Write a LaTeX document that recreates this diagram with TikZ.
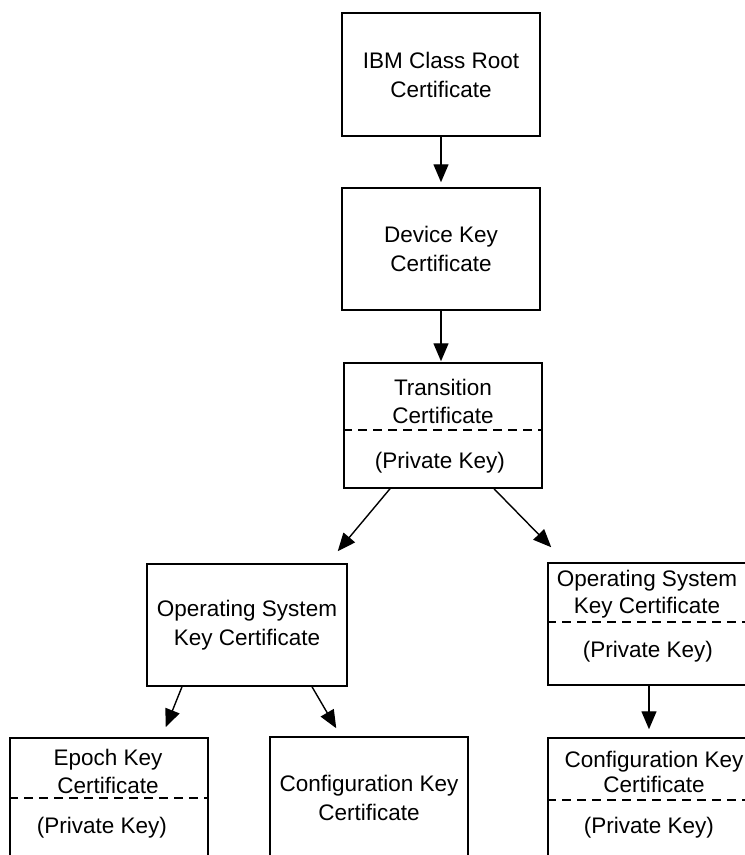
\documentclass[tikz,border=0pt]{standalone}
\usepackage{fontspec}
\setmainfont{Liberation Sans}
\usetikzlibrary{arrows.meta}

\begin{document}
\begin{tikzpicture}[x=1pt,y=-1pt,
  certbox/.style={draw=black, line width=1.5pt, rectangle, inner sep=0pt,
    align=center, font=\fontsize{22.5}{29}\selectfont},
  lbl/.style={inner sep=0pt, anchor=base, font=\fontsize{22.5}{29}\selectfont},
  sep/.style={line width=1.2pt, dash pattern=on 9pt off 6pt},
  arr/.style={line width=1.4pt, -{Triangle[length=18pt,width=15pt]}}]

\useasboundingbox (0,0) rectangle (745,855);

% certificate boxes
\node[certbox, minimum width=198pt, minimum height=123pt] (root) at (441,74.5)
  {IBM Class Root\\Certificate};
\node[certbox, minimum width=198pt, minimum height=122pt] (device) at (441,249)
  {Device Key\\Certificate};
\node[certbox, minimum width=198pt, minimum height=125pt] (trans) at (443,425.5) {};
\node[certbox, minimum width=200pt, minimum height=122pt] (osl) at (247,625)
  {Operating System\\Key Certificate};
\node[certbox, minimum width=202pt, minimum height=122pt] (osr) at (649,624) {};
\node[certbox, minimum width=198pt, minimum height=122pt] (epoch) at (109,799) {};
\node[certbox, minimum width=198pt, minimum height=122pt] (cfgm) at (369,798)
  {Configuration Key\\Certificate};
\node[certbox, minimum width=202pt, minimum height=122pt] (cfgr) at (649,799) {};

% split boxes: certificate above, private key below
\node[lbl] (transA) at (443,395) {Transition};
\node[lbl] (transB) at (443,423) {Certificate};
\draw[sep] (trans.west |- 0,430) -- (trans.east |- 0,430);
\node[lbl] (transC) at (440,468) {(Private Key)};

\node[lbl] (osrA) at (647,586) {Operating System};
\node[lbl] (osrB) at (647,613) {Key Certificate};
\draw[sep] (osr.west |- 0,622) -- (osr.east |- 0,622);
\node[lbl] (osrC) at (648,657) {(Private Key)};

\node[lbl] (epochA) at (108,765) {Epoch Key};
\node[lbl] (epochB) at (108,793) {Certificate};
\draw[sep] (epoch.west |- 0,798) -- (epoch.east |- 0,798);
\node[lbl] (epochC) at (102,833) {(Private Key)};

\node[lbl] (cfgrA) at (654,767) {Configuration Key};
\node[lbl] (cfgrB) at (654,792) {Certificate};
\draw[sep] (cfgr.west |- 0,800) -- (cfgr.east |- 0,800);
\node[lbl] (cfgrC) at (649,833) {(Private Key)};

% certificate chain
\draw[arr, shorten >=5pt] (root.south) -- (device.north);
\draw[arr, shorten >=1pt] (device.south) -- (device.south |- trans.north);
\draw[arr] ([xshift=-53pt]trans.south) -- ([xshift=-10pt,yshift=12pt]osl.north east);
\draw[arr] ([xshift=51pt]trans.south) -- ([xshift=4pt,yshift=15pt]osr.north west);
\draw[arr] ([xshift=-65pt]osl.south) -- ([xshift=-43pt,yshift=10pt]epoch.north east);
\draw[arr] ([xshift=65pt]osl.south) -- ([xshift=67pt,yshift=8pt]cfgm.north west);
\draw[arr, shorten >=8pt] (osr.south) -- (cfgr.north);

\end{tikzpicture}
\end{document}
